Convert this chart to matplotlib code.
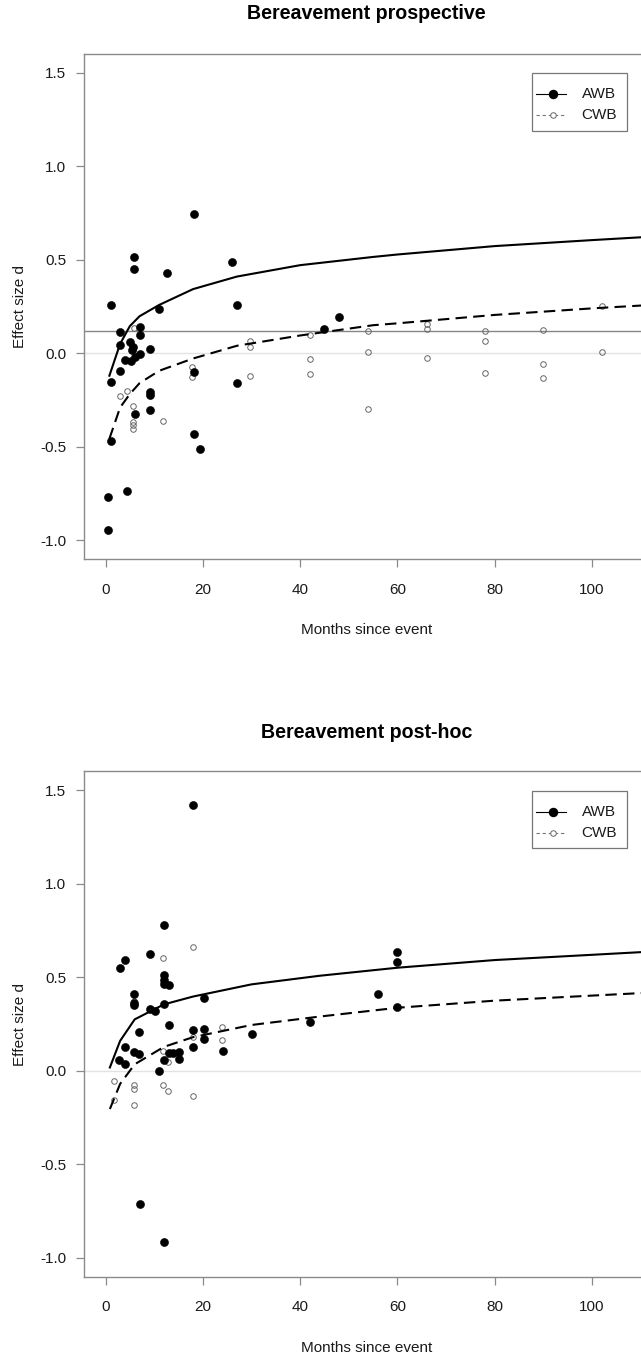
import matplotlib
matplotlib.use("Agg")
import matplotlib.pyplot as plt
from matplotlib.lines import Line2D
from matplotlib.patches import Rectangle

plt.rcParams['font.family'] = ['Liberation Sans', 'DejaVu Sans']
plt.rcParams['axes.unicode_minus'] = False

# ---- Bereavement, prospective studies ----
pro_awb_month = [1.1, 1.1, 1.1, 0.6, 0.6, 3.0, 3.0, 3.0, 4.0, 4.5, 5.0, 5.2, 5.6, 6.0,
                 5.9, 5.9, 6.1, 7.0, 7.0, 7.0, 9.1, 9.1, 9.1, 9.1, 10.9, 12.7, 18.1,
                 18.1, 18.1, 19.4, 26.0, 27.0, 27.0, 45.0, 48.0, 5.4]
pro_awb_d = [0.257, -0.152, -0.471, -0.770, -0.944, 0.115, 0.043, -0.094, -0.035, -0.737,
             0.060, -0.041, 0.035, -0.018, 0.514, 0.452, -0.324, 0.142, 0.096, -0.005,
             0.025, -0.209, -0.223, -0.306, 0.234, 0.429, 0.747, -0.099, -0.430, -0.510,
             0.489, 0.257, -0.161, 0.131, 0.193, 0.020]

pro_cwb_month = [2.9, 4.4, 5.8, 5.7, 5.7, 5.7, 5.7, 11.8, 17.8, 17.8, 29.8, 29.8, 29.8,
                 42, 42, 42, 54, 54, 54, 66, 66, 66, 78, 78, 78, 90, 90, 90, 102, 102]
pro_cwb_d = [-0.227, -0.203, 0.133, -0.280, -0.365, -0.383, -0.404, -0.360, -0.076, -0.129,
             0.065, 0.034, -0.122, 0.096, -0.032, -0.113, 0.121, 0.007, -0.296, 0.154,
             0.131, -0.027, 0.121, 0.066, -0.103, 0.124, -0.059, -0.133, 0.255, 0.007]

pro_fit_month = [0.8, 3, 5, 7, 11, 18, 27, 40, 55, 60, 80, 100, 112]
pro_fit_awb = [-0.12, 0.05, 0.145, 0.198, 0.258, 0.343, 0.41, 0.471, 0.515, 0.528, 0.573, 0.605, 0.623]
pro_fit_cwb = [-0.457, -0.29, -0.218, -0.16, -0.094, -0.028, 0.04, 0.095, 0.15, 0.16, 0.205, 0.24, 0.258]
pro_ref_level = 0.12

# ---- Bereavement, post-hoc studies ----
post_awb_month = [18.05, 11.96, 9.08, 4.07, 3.05, 11.96, 11.96, 11.96, 13.1, 5.93, 5.93, 5.93,
                  9.08, 10.17, 11.96, 20.2, 12.98, 6.96, 18.05, 20.2, 20.2, 30.05, 42.0, 4.0,
                  5.93, 6.96, 2.7, 4.07, 11.96, 12.98, 13.95, 15.1, 15.1, 18.05, 24.1, 10.9,
                  56.1, 60.0, 60.0, 60.0, 7.0, 12.0]
post_awb_d = [1.419, 0.777, 0.626, 0.592, 0.550, 0.511, 0.488, 0.466, 0.461, 0.413, 0.364, 0.350,
              0.332, 0.319, 0.355, 0.388, 0.243, 0.208, 0.218, 0.225, 0.172, 0.199, 0.261, 0.130,
              0.098, 0.089, 0.057, 0.039, 0.057, 0.094, 0.094, 0.103, 0.063, 0.126, 0.105, -0.003,
              0.409, 0.635, 0.582, 0.340, -0.709, -0.913]

post_cwb_month = [18.0, 11.9, 24.0, 24.0, 18.0, 11.9, 12.9, 11.9, 12.9, 18.0, 5.9, 5.9, 5.9,
                  1.8, 1.8, 5.9]
post_cwb_d = [0.662, 0.601, 0.234, 0.163, 0.181, 0.105, 0.045, -0.076, -0.106, -0.133, -0.076,
              -0.097, -0.181, -0.053, -0.154, 0.375]

post_fit_month = [0.9, 3, 6, 12, 18, 30, 44, 60, 80, 100, 112]
post_fit_awb = [0.018, 0.16, 0.275, 0.355, 0.397, 0.462, 0.508, 0.551, 0.592, 0.62, 0.637]
post_fit_cwb = [-0.204, -0.07, 0.035, 0.128, 0.18, 0.245, 0.29, 0.337, 0.375, 0.402, 0.418]

x_ticks = [0, 20, 40, 60, 80, 100]
y_ticks = [-1.0, -0.5, 0.0, 0.5, 1.0, 1.5]
series_names = ["AWB", "CWB"]

W, H = 641, 1359
fig = plt.figure(figsize=(W / 100, H / 100), dpi=100)

FRAME = '#8a8a8a'
TXT = '#1a1a1a'
FS = 11.0
DOT = 5.8
RING = 4.0


def add_axes_px(left, top, right, bottom):
    return fig.add_axes([left / W, 1 - bottom / H, (right - left) / W, (bottom - top) / H])


def draw_key(ax):
    ax.add_patch(Rectangle((0.793, 0.848), 0.168, 0.1138, transform=ax.transAxes,
                           fill=False, ec='#777777', lw=0.9, zorder=6, clip_on=False))
    rows = [0.920, 0.879]
    ax.add_line(Line2D([0.7999, 0.853], [rows[0]] * 2, transform=ax.transAxes,
                       color='black', lw=0.8, zorder=6))
    ax.add_line(Line2D([0.8305], [rows[0]], transform=ax.transAxes, marker='o', ms=DOT,
                       mfc='black', mec='black', ls='none', zorder=7))
    ax.add_line(Line2D([0.7999, 0.853], [rows[1]] * 2, transform=ax.transAxes,
                       color='#777777', lw=0.8, dashes=(3, 2.5), zorder=6))
    ax.add_line(Line2D([0.8305], [rows[1]], transform=ax.transAxes, marker='o', ms=RING,
                       mfc='white', mec='#666666', mew=0.7, ls='none', zorder=7))
    for r, name in zip(rows, series_names):
        ax.text(0.881, r, name, transform=ax.transAxes, ha='left', va='center',
                fontsize=FS, color=TXT, zorder=7)


def draw_panel(ax, title, title_y, awb_m, awb_d, cwb_m, cwb_d, fit_m, fit_awb, fit_cwb,
               ref_level=None):
    ax.set_xlim(-4.46, 111.7)
    ax.set_ylim(-1.1, 1.6)
    ax.axhline(0.0, color='#e2e2e2', lw=1.0, zorder=1)
    if ref_level is not None:
        ax.axhline(ref_level, color='#858585', lw=1.0, zorder=1)
    ax.plot(cwb_m, cwb_d, ls='none', marker='o', ms=RING, mfc='none', mec='#666666',
            mew=0.7, zorder=2)
    ax.plot(awb_m, awb_d, ls='none', marker='o', ms=DOT, mfc='black', mec='black',
            mew=0.4, zorder=3)
    ax.plot(fit_m, fit_awb, color='black', lw=1.5, zorder=4)
    ax.plot(fit_m, fit_cwb, color='black', lw=1.5, dashes=(5.5, 3.0), zorder=4)

    ax.set_xticks(x_ticks)
    ax.set_xticklabels([str(t) for t in x_ticks])
    ax.set_yticks(y_ticks)
    ax.set_yticklabels(['%.1f' % t for t in y_ticks])
    ax.tick_params(axis='both', direction='out', length=6, width=0.9, color=FRAME,
                   labelsize=FS, labelcolor=TXT)
    ax.tick_params(axis='x', pad=11.0)
    ax.tick_params(axis='y', pad=6.8)
    for s in ax.spines.values():
        s.set_color(FRAME)
        s.set_linewidth(1.0)

    ax.set_xlabel('Months since event', fontsize=FS, color=TXT, va='center')
    ax.xaxis.set_label_coords(0.5, -(71.0 / 505.0))
    ax.set_ylabel('Effect size d', fontsize=FS, color=TXT, va='center')
    ax.yaxis.set_label_coords(-(63.4 / 565.2), 0.5)

    ax.text(0.5, title_y, title, transform=ax.transAxes, ha='center', va='center',
            fontsize=14.1, fontweight='bold', color='black')
    draw_key(ax)


ax_top = add_axes_px(83.8, 54.0, 649.0, 559.0)
draw_panel(ax_top, 'Bereavement prospective', 1 + (54.0 - 13.5) / 505.0,
           pro_awb_month, pro_awb_d, pro_cwb_month, pro_cwb_d,
           pro_fit_month, pro_fit_awb, pro_fit_cwb, ref_level=pro_ref_level)

ax_bot = add_axes_px(83.8, 771.4, 649.0, 1276.7)
draw_panel(ax_bot, 'Bereavement post-hoc', 1 + (771.4 - 733.0) / 505.3,
           post_awb_month, post_awb_d, post_cwb_month, post_cwb_d,
           post_fit_month, post_fit_awb, post_fit_cwb)

fig.savefig('out.png', dpi=100, facecolor='white')
